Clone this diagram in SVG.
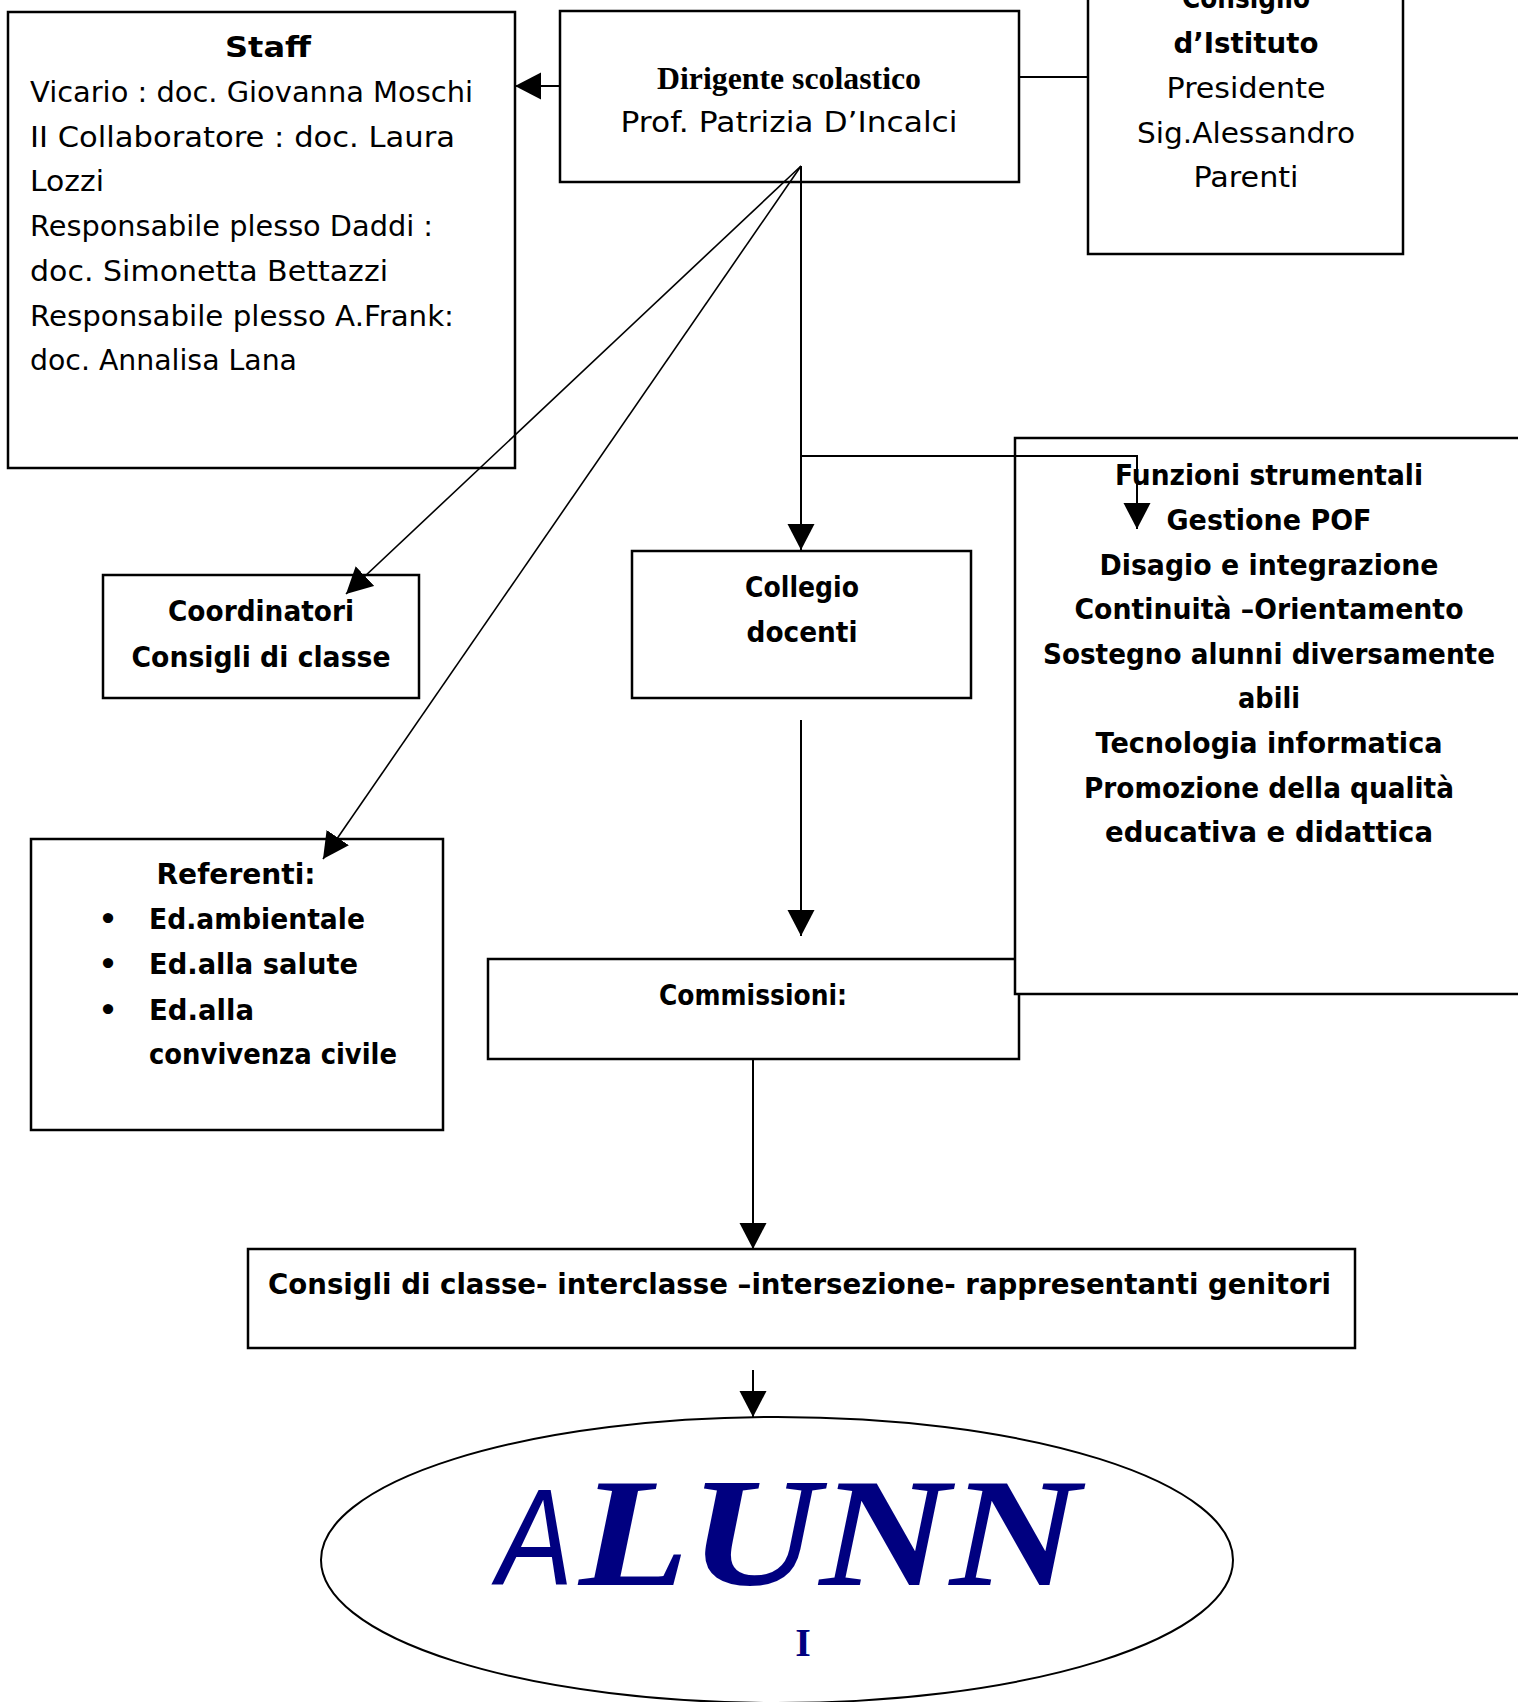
<svg xmlns="http://www.w3.org/2000/svg" width="1518" height="1702" viewBox="0 0 1518 1702">
<style>
.box{fill:#fff;stroke:#000;stroke-width:2.5}
.c{font-family:'Comic Sans MS','DejaVu Sans',sans-serif;font-size:29px;fill:#000}
.b{font-weight:bold}
.m{text-anchor:middle}
.t{font-family:'Liberation Serif','Times New Roman',serif;font-weight:bold;font-size:32px;fill:#000;text-anchor:middle}
.ln{fill:none;stroke:#000;stroke-width:2}
.dg{fill:none;stroke:#000;stroke-width:1.6}
.nv{fill:#000080}
</style>
<defs>
<marker id="ah" markerUnits="userSpaceOnUse" markerWidth="28" markerHeight="28" refX="26" refY="13.5" orient="auto" viewBox="0 0 28 28">
<path d="M0,0 L26,13.5 L0,27 z" fill="#000"/>
</marker>
</defs>
<rect width="1518" height="1702" fill="#fff"/>

<g id="staff">
<rect class="box" x="8" y="12" width="507" height="456"/>
<text class="c b m" x="268" y="57" textLength="86" lengthAdjust="spacingAndGlyphs">Staff</text>
<text class="c" x="30" y="102" textLength="443" lengthAdjust="spacingAndGlyphs">Vicario : doc. Giovanna Moschi</text>
<text class="c" x="30" y="147" textLength="425" lengthAdjust="spacingAndGlyphs">II Collaboratore : doc. Laura</text>
<text class="c" x="30" y="191" textLength="74" lengthAdjust="spacingAndGlyphs">Lozzi</text>
<text class="c" x="30" y="236" textLength="403" lengthAdjust="spacingAndGlyphs">Responsabile plesso Daddi :</text>
<text class="c" x="30" y="281" textLength="358" lengthAdjust="spacingAndGlyphs">doc. Simonetta Bettazzi</text>
<text class="c" x="30" y="326" textLength="424" lengthAdjust="spacingAndGlyphs">Responsabile plesso A.Frank:</text>
<text class="c" x="30" y="370" textLength="267" lengthAdjust="spacingAndGlyphs">doc. Annalisa Lana</text>
</g>

<g id="dirigente">
<rect class="box" x="560" y="11" width="459" height="171"/>
<text class="t" x="789" y="89" textLength="264" lengthAdjust="spacingAndGlyphs">Dirigente scolastico</text>
<text class="c m" x="789" y="132" textLength="337" lengthAdjust="spacingAndGlyphs">Prof. Patrizia D’Incalci</text>
</g>

<g id="consiglio">
<rect class="box" x="1088" y="-5" width="315" height="259"/>
<text class="c b m" x="1246" y="8" textLength="128" lengthAdjust="spacingAndGlyphs">Consiglio</text>
<text class="c b m" x="1246" y="53" textLength="145" lengthAdjust="spacingAndGlyphs">d’Istituto</text>
<text class="c m" x="1246" y="98" textLength="159" lengthAdjust="spacingAndGlyphs">Presidente</text>
<text class="c m" x="1246" y="143" textLength="218" lengthAdjust="spacingAndGlyphs">Sig.Alessandro</text>
<text class="c m" x="1246" y="187" textLength="105" lengthAdjust="spacingAndGlyphs">Parenti</text>
</g>

<g id="commissioni">
<rect class="box" x="488" y="959" width="531" height="100"/>
<text class="c b m" x="753" y="1005" textLength="188" lengthAdjust="spacingAndGlyphs">Commissioni:</text>
</g>

<g id="funzioni">
<rect class="box" x="1015" y="438" width="520" height="556"/>
<text class="c b m" x="1269" y="485" textLength="308" lengthAdjust="spacingAndGlyphs">Funzioni strumentali</text>
<text class="c b m" x="1269" y="530" textLength="205" lengthAdjust="spacingAndGlyphs">Gestione POF</text>
<text class="c b m" x="1269" y="575" textLength="339" lengthAdjust="spacingAndGlyphs">Disagio e integrazione</text>
<text class="c b m" x="1269" y="619" textLength="389" lengthAdjust="spacingAndGlyphs">Continuità –Orientamento</text>
<text class="c b m" x="1269" y="664" textLength="452" lengthAdjust="spacingAndGlyphs">Sostegno alunni diversamente</text>
<text class="c b m" x="1269" y="708" textLength="62" lengthAdjust="spacingAndGlyphs">abili</text>
<text class="c b m" x="1269" y="753" textLength="347" lengthAdjust="spacingAndGlyphs">Tecnologia informatica</text>
<text class="c b m" x="1269" y="798" textLength="370" lengthAdjust="spacingAndGlyphs">Promozione della qualità</text>
<text class="c b m" x="1269" y="842" textLength="328" lengthAdjust="spacingAndGlyphs">educativa e didattica</text>
</g>

<g id="coordinatori">
<rect class="box" x="103" y="575" width="316" height="123"/>
<text class="c b m" x="261" y="621" textLength="186" lengthAdjust="spacingAndGlyphs">Coordinatori</text>
<text class="c b m" x="261" y="667" textLength="259" lengthAdjust="spacingAndGlyphs">Consigli di classe</text>
</g>

<g id="collegio">
<rect class="box" x="632" y="551" width="339" height="147"/>
<text class="c b m" x="802" y="597" textLength="114" lengthAdjust="spacingAndGlyphs">Collegio</text>
<text class="c b m" x="802" y="642" textLength="111" lengthAdjust="spacingAndGlyphs">docenti</text>
</g>

<g id="referenti">
<rect class="box" x="31" y="839" width="412" height="291"/>
<text class="c b m" x="236" y="884" textLength="159" lengthAdjust="spacingAndGlyphs">Referenti:</text>
<text class="c b m" x="108" y="929">•</text>
<text class="c b" x="149" y="929" textLength="216" lengthAdjust="spacingAndGlyphs">Ed.ambientale</text>
<text class="c b m" x="108" y="974">•</text>
<text class="c b" x="149" y="974" textLength="209" lengthAdjust="spacingAndGlyphs">Ed.alla salute</text>
<text class="c b m" x="108" y="1020">•</text>
<text class="c b" x="149" y="1020" textLength="105" lengthAdjust="spacingAndGlyphs">Ed.alla</text>
<text class="c b" x="149" y="1064" textLength="248" lengthAdjust="spacingAndGlyphs">convivenza civile</text>
</g>

<g id="consigli">
<rect class="box" x="248" y="1249" width="1107" height="99"/>
<text class="c b" x="268" y="1294" textLength="1063" lengthAdjust="spacingAndGlyphs">Consigli di classe- interclasse –intersezione- rappresentanti genitori</text>
</g>

<g id="alunni">
<ellipse cx="777" cy="1560" rx="456" ry="143" fill="#fff" stroke="#000" stroke-width="2"/>
<text x="497" y="1585" font-family="'Liberation Sans',Arial,sans-serif" font-style="italic" font-size="137" class="nv" textLength="76" lengthAdjust="spacingAndGlyphs">A</text>
<text x="579" y="1585" font-family="'Liberation Serif','Times New Roman',serif" font-weight="bold" font-style="italic" font-size="155" class="nv" textLength="501" lengthAdjust="spacingAndGlyphs">LUNN</text>
<text x="803" y="1656" font-family="'Liberation Serif','Times New Roman',serif" font-weight="bold" font-size="40" class="nv" text-anchor="middle">I</text>
</g>

<g id="connectors">
<line class="ln" x1="560" y1="86" x2="515" y2="86" marker-end="url(#ah)"/>
<line class="ln" x1="1019" y1="77" x2="1088" y2="77"/>
<line class="dg" x1="801" y1="166" x2="346" y2="594" marker-end="url(#ah)"/>
<line class="dg" x1="801" y1="166" x2="323" y2="859" marker-end="url(#ah)"/>
<line class="ln" x1="801" y1="166" x2="801" y2="550" marker-end="url(#ah)"/>
<polyline class="ln" points="801,456 1137,456 1137,529" marker-end="url(#ah)"/>
<line class="ln" x1="801" y1="720" x2="801" y2="936" marker-end="url(#ah)"/>
<line class="ln" x1="753" y1="1059" x2="753" y2="1249" marker-end="url(#ah)"/>
<line class="ln" x1="753" y1="1370" x2="753" y2="1417" marker-end="url(#ah)"/>
</g>
</svg>
